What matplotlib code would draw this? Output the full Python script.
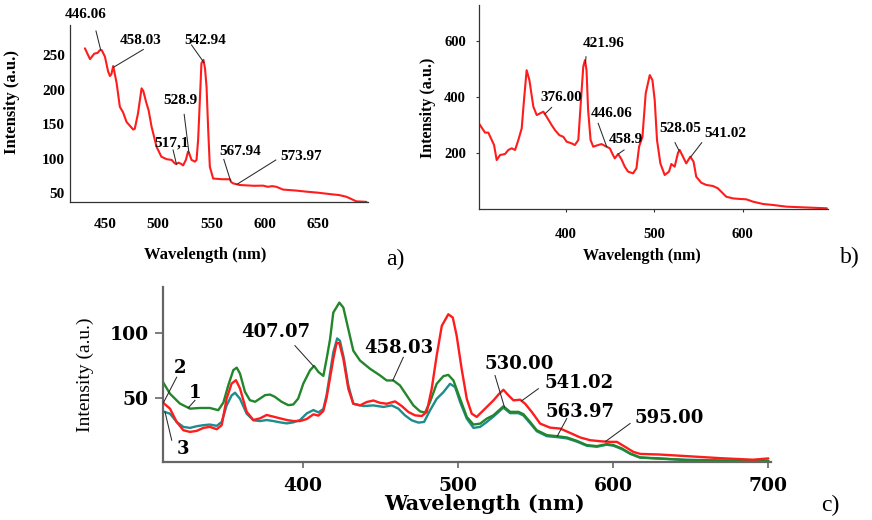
import numpy as np
import matplotlib
matplotlib.use("Agg")
import matplotlib.pyplot as plt

# ---------------- data ----------------
# a) emission spectrum
a_wl = [431.2, 436.0, 440.0, 443.0, 445.3, 447.0, 450.0, 453.0, 454.7, 456.0, 457.8,
        461.0, 464.0, 467.0, 470.3, 476.5, 478.0, 481.0, 484.4, 486.0, 489.0, 491.0,
        493.8, 498.5, 503.0, 508.0, 512.6, 515.6, 517.0, 519.0, 521.9, 523.4, 526.0,
        528.0, 529.0, 531.3, 534.4, 536.0, 537.5, 539.0, 540.6, 542.5, 544.0, 545.4,
        547.0, 548.5, 551.6, 560.0, 567.2, 568.5, 570.3, 576.6, 590.0, 598.5, 603.0,
        607.0, 611.0, 617.3, 630.0, 639.0, 650.0, 661.0, 670.0, 676.7, 686.0, 695.5]
a_int = [259.7, 244, 252, 253, 257, 257, 247.6, 226, 219.6, 222, 234,
         209, 175, 167, 153, 142, 143, 165, 201.7, 198, 180, 170,
         146, 117, 102.6, 99, 98, 93, 92, 94, 92, 90, 98,
         110, 108, 98, 95.5, 98, 127, 180, 238, 243, 230, 204,
         140, 88, 71, 70, 70, 66, 64, 61.6, 60.5, 60.7, 59,
         60, 59, 55, 53.5, 52, 50.5, 48.5, 47, 44.6, 38, 37.2]
a_labels = ["446.06", "458.03", "542.94", "528.9", "517,1", "567.94", "573.97"]
a_peaks = [446.06, 458.03, 542.94, 528.9, 517.1, 567.94, 573.97]

# b) emission spectrum
b_wl = [301.8, 308.3, 312.0, 315.9, 318.5, 321.5, 325.3, 330.9, 334.7, 338.5, 342.3,
        346.0, 349.8, 352.4, 355.4, 358.5, 363.0, 366.8, 370.5, 374.3, 378.0, 383.7,
        387.5, 392.4, 396.9, 400.7, 406.3, 410.0, 413.9, 416.9, 419.5, 421.4, 423.2,
        425.0, 427.8, 430.8, 436.4, 440.2, 445.9, 449.6, 452.6, 455.2, 459.0, 462.8,
        466.5, 470.3, 475.9, 479.7, 482.7, 486.5, 490.2, 494.8, 497.8, 500.4, 503.0,
        506.8, 511.7, 516.6, 519.2, 523.0, 526.8, 528.6, 532.4, 536.1, 540.7, 544.4,
        547.4, 553.1, 558.8, 566.3, 571.9, 575.7, 581.4, 588.9, 596.5, 604.0, 611.6,
        622.9, 634.2, 649.3, 668.2, 695.3]
b_int = [305, 274, 274, 247.6, 229.7, 176, 194, 197.5, 212, 218, 212,
         247.6, 289, 390, 497, 462, 366.5, 336.8, 342.7, 348.7, 331, 301,
         283, 265, 259, 241.6, 235.6, 229.7, 247.6, 390, 509, 533, 497,
         354.6, 247.6, 223.7, 229.7, 233, 223.7, 217.8, 197.5, 182, 197.5, 178.5,
         152.3, 134.5, 128.5, 146.4, 223.7, 259, 414, 479.6, 461.7, 390, 247.6,
         164, 122.6, 134.5, 161.8, 152.3, 202, 212, 188, 164, 188, 170,
         116.6, 95, 87, 83.3, 75, 63, 45, 39, 37, 35.7, 27.4,
         19, 15.5, 9.5, 7, 3.6]
b_labels = ["421.96", "376.00", "446.06", "458.9", "528.05", "541.02"]
b_peaks = [421.96, 376.00, 446.06, 458.9, 528.05, 541.02]

# c) three samples
c1_wl = [310.0, 314.5, 320.9, 327.4, 333.8, 340.2, 345.6, 348.9, 352.1, 355.3, 357.5,
         359.6, 362.8, 366.0, 369.3, 372.5, 375.7, 378.9, 382.1, 386.4, 390.7, 393.9,
         397.1, 400.4, 404.7, 407.3, 410.1, 413.3, 415.4, 417.6, 419.7, 423.6, 426.2,
         429.4, 432.6, 436.9, 443.4, 449.8, 454.1, 458.4, 462.7, 467.0, 471.3, 475.6,
         478.8, 482.0, 486.3, 490.6, 493.8, 497.1, 501.4, 505.7, 510.0, 514.3, 518.6,
         522.9, 529.3, 533.6, 539.0, 542.2, 546.5, 550.8, 557.3, 563.7, 570.2, 576.6,
         583.0, 589.5, 595.9, 600.2, 605.6, 611.0, 617.3, 630.0, 647.0, 669.0, 700.0]
c1_int = [62, 53, 45.4, 41.5, 42, 42, 40.3, 46.2, 59.7, 71.3, 73.2,
          68.6, 54.5, 48, 46.8, 49.3, 51.9, 52.4, 50.6, 46.8, 44.2, 44.7,
          49.3, 60.9, 71.1, 74.5, 69.9, 66.8, 80, 95, 115.8, 123.5, 119.6,
          102.9, 86.3, 78.7, 72.3, 67.2, 63.3, 63.3, 59.4, 51.7, 44, 39.4,
          38.4, 46.6, 60.7, 66.6, 67.6, 63.3, 49.1, 35.1, 29.2, 29.9, 33.8,
          36.4, 43.3, 39, 39, 37.2, 31.2, 24.8, 21, 20.2, 19.2, 16.6,
          13.3, 12.5, 14.1, 13.3, 10.7, 6.9, 3.8, 3, 1.7, 1.2, 1]

c2_wl = [310.0, 314.5, 318.8, 323.1, 327.4, 331.7, 336.0, 340.2, 344.6, 347.8, 351.0,
         354.2, 357.0, 359.6, 363.9, 368.2, 372.5, 376.8, 381.1, 385.4, 389.7, 394.0,
         398.3, 402.6, 406.9, 410.1, 413.3, 415.4, 419.7, 421.8, 423.6, 426.2, 429.4,
         432.6, 436.9, 441.2, 445.5, 449.8, 454.1, 459.5, 463.8, 468.1, 472.4, 476.7,
         479.9, 483.1, 486.3, 489.6, 493.8, 496.7, 499.2, 502.4, 505.7, 508.9, 512.1,
         517.5, 522.9, 526.2, 529.3, 532.6, 535.8, 540.1, 543.3, 547.6, 553.0, 559.4,
         565.9, 572.3, 578.8, 585.2, 591.6, 598.1, 602.4, 607.8, 613.1, 617.4, 630.0,
         647.0, 669.0, 690.0, 700.0]
c2_int = [46.1, 41.5, 31.2, 24.8, 23.5, 24.3, 26.6, 27.4, 25.6, 28.7, 49.3,
          60.9, 63.5, 57.1, 39.1, 32.7, 34, 36.6, 35.3, 34, 32.7, 31.9,
          31.9, 33.5, 37.1, 36.1, 39.7, 50, 79.9, 92.2, 92.2, 79.9, 56.8,
          45.3, 44, 46.6, 47.8, 46, 45.3, 47.1, 43.5, 38.9, 36.3, 35.8,
          38.9, 56.8, 82.4, 105.5, 114.5, 111.9, 97.8, 72.2, 49.1, 37.6, 35.1,
          41.5, 47.9, 52.5, 56.1, 51.7, 47.9, 48.4, 45.3, 38.9, 29.9, 26.8,
          26.1, 22.7, 19.2, 17.1, 16.3, 15.8, 15.8, 11.9, 8, 6.5, 6,
          4.8, 3.2, 2, 3]

c3_wl = [310.0, 314.5, 318.8, 323.1, 327.4, 331.7, 336.0, 340.2, 344.6, 347.8, 351.0,
         354.2, 356.4, 359.6, 363.9, 368.2, 372.5, 376.8, 381.1, 385.4, 389.7, 394.0,
         398.3, 402.6, 406.9, 410.1, 413.3, 415.4, 419.7, 422.2, 424.0, 426.6, 429.4,
         432.6, 439.1, 445.5, 452.0, 457.3, 461.6, 465.9, 470.2, 474.5, 478.2, 482.0,
         486.3, 490.6, 494.9, 498.2, 501.4, 505.7, 510.0, 514.3, 518.6, 522.9, 529.3,
         533.6, 539.0, 542.2, 546.5, 550.8, 557.3, 563.7, 570.2, 576.6, 583.0, 589.5,
         595.9, 600.2, 605.6, 611.0, 617.3, 630.0, 647.0, 669.0, 700.0]
c3_int = [39.4, 37.6, 31.2, 27.4, 26.6, 27.9, 28.7, 29.2, 28.2, 31.2, 44,
          51.7, 53.8, 49.1, 37.6, 32.5, 31.9, 32.7, 31.9, 30.9, 30.1, 30.9,
          32.7, 37.8, 40.4, 38.6, 41.2, 52, 85, 95.8, 94, 79.9, 59.4,
          45.3, 43.5, 44, 42.8, 44, 41.5, 36.3, 32.5, 30.7, 31.2, 40.1,
          49.1, 54.2, 60.7, 58.1, 46.6, 33.8, 26.6, 27.4, 31.2, 35.4, 42.3,
          38, 38, 36.2, 30.2, 24, 20.2, 19.5, 18.5, 16, 12.8, 12,
          13.6, 12.8, 10.2, 6.5, 3.6, 2.8, 2, 1.5, 1.2]
c_labels = ["407.07", "458.03", "530.00", "541.02", "563.97", "595.00"]
c_peaks = [407.07, 458.03, 530.00, 541.02, 563.97, 595.00]
c_peak_curve = [1, 1, 1, 2, 1, 2]
c_names = ["1", "2", "3"]

# ---------------- layout / style ----------------
W, H = 872, 520
fig = plt.figure(figsize=(W / 100, H / 100), dpi=100)

RED = "#ff1c1c"
GREEN = "#23862a"
TEAL = "#1d8c8c"
LEADER = "#2a2a2a"
TIMES = "Liberation Serif"
WIDE = "DejaVu Serif"
LINE_KW = dict(solid_joinstyle="round", solid_capstyle="round")


def add_axes_px(left, top, right, bottom):
    return fig.add_axes([left / W, 1 - bottom / H, (right - left) / W, (bottom - top) / H])


def fig_text(x, y, s, **kw):
    fig.text(x / W, 1 - y / H, s, ha="center", va="center", **kw)


def leader(ax, wl, xs, ys, start, text_xy, text, **kw):
    y_end = np.interp(wl, xs, ys)
    ax.plot([start[0], wl], [start[1], y_end], color=LEADER, lw=0.75,
            clip_on=False, zorder=4)
    ax.text(text_xy[0], text_xy[1], text, ha="center", va="center",
            clip_on=False, zorder=5, **kw)


def style_axes(ax, spine_color, spine_w):
    for side in ("top", "right"):
        ax.spines[side].set_visible(False)
    for side in ("left", "bottom"):
        ax.spines[side].set_color(spine_color)
        ax.spines[side].set_linewidth(spine_w)


# ---- panel a ----
ax_a = add_axes_px(70, 25, 368, 202)
ax_a.plot(a_wl, a_int, color=RED, lw=1.5, **LINE_KW)
ax_a.set_xlim(417.2, 697)
ax_a.set_ylim(37, 293.5)
ax_a.set_xticks([450, 500, 550, 600, 650])
ax_a.set_yticks([50, 100, 150, 200, 250])
style_axes(ax_a, "#333333", 0.9)
ax_a.tick_params(axis="x", length=0, pad=11.5)
ax_a.tick_params(axis="y", length=0, pad=3.6)
for lab in ax_a.get_xticklabels() + ax_a.get_yticklabels():
    lab.set_fontfamily(TIMES)
    lab.set_fontweight("bold")
    lab.set_fontsize(11)

a_text_xy = [(432, 309), (483.8, 271.7), (543.8, 270.7), (520.4, 184.8),
             (512.8, 122.5), (576.6, 110), (634.4, 102.6)]
a_start = [(441.6, 284.8), (486, 258), (531.3, 264.5), (524.4, 164),
           (514, 112.3), (561.6, 98.8), (610.4, 97.8)]
for lab, wl, txy, st in zip(a_labels, a_peaks, a_text_xy, a_start):
    leader(ax_a, wl, a_wl, a_int, st, txy, lab,
           fontfamily=TIMES, fontweight="bold", fontsize=11)

fig_text(205, 255, "Wavelength (nm)", fontfamily=TIMES, fontweight="bold", fontsize=12)
fig_text(12.5, 102.5, "Intensity (a.u.)", fontfamily=TIMES, fontweight="bold",
         fontsize=12, rotation=90)
fig_text(395, 259, "a)", fontfamily=TIMES, fontsize=17)

# ---- panel b ----
ax_b = add_axes_px(479.3, 5, 828, 209.3)
ax_b.plot(b_wl, b_int, color=RED, lw=1.5, **LINE_KW)
ax_b.set_xlim(301.8, 696.6)
ax_b.set_ylim(0, 730)
ax_b.set_xticks([400, 500, 600])
ax_b.set_yticks([200, 400, 600])
style_axes(ax_b, "#333333", 0.9)
ax_b.tick_params(axis="x", length=2.5, width=0.8, pad=11, colors="#333333", labelcolor="black")
ax_b.tick_params(axis="y", length=2.5, width=0.8, pad=7, colors="#333333", labelcolor="black")
for lab in ax_b.get_xticklabels() + ax_b.get_yticklabels():
    lab.set_fontfamily(TIMES)
    lab.set_fontweight("bold")
    lab.set_fontsize(10.5)

b_text_xy = [(442.7, 592.6), (394.3, 400), (451.7, 342.7), (467.6, 250),
             (529.1, 289), (580.4, 271)]
b_start = [(422.6, 545), (383.7, 364), (436.4, 307), (465.7, 212),
           (523.4, 238), (553.6, 238)]
for lab, wl, txy, st in zip(b_labels, b_peaks, b_text_xy, b_start):
    leader(ax_b, wl, b_wl, b_int, st, txy, lab,
           fontfamily=TIMES, fontweight="bold", fontsize=11)

fig_text(642, 256.5, "Wavelength (nm)", fontfamily=TIMES, fontweight="bold", fontsize=11.5)
fig_text(428, 108, "Intensity (a.u.)", fontfamily=TIMES, fontweight="bold",
         fontsize=11.5, rotation=90)
fig_text(850, 257, "b)", fontfamily=TIMES, fontsize=17)

# ---- panel c ----
ax_c = add_axes_px(162.7, 286.7, 770.7, 462.3)
c_curves = [(c1_wl, c1_int, GREEN), (c2_wl, c2_int, RED), (c3_wl, c3_int, TEAL)]
ax_c.plot(c3_wl, c3_int, color=TEAL, lw=1.7, **LINE_KW)
ax_c.plot(c1_wl, c1_int, color=GREEN, lw=1.7, **LINE_KW)
ax_c.plot(c2_wl, c2_int, color=RED, lw=1.7, **LINE_KW)
ax_c.set_xlim(309.8, 701.5)
ax_c.set_ylim(0, 135.8)
ax_c.set_xticks([400, 500, 600, 700])
ax_c.set_yticks([50, 100])
style_axes(ax_c, "#666666", 1.6)
ax_c.tick_params(axis="x", length=4.5, width=1.2, pad=6, colors="#666666", labelcolor="black")
ax_c.tick_params(axis="y", length=6, width=1.2, pad=4, colors="#666666", labelcolor="black")
for lab in ax_c.get_xticklabels() + ax_c.get_yticklabels():
    lab.set_fontfamily(WIDE)
    lab.set_fontweight("bold")
    lab.set_fontsize(13.5)

c_text_xy = [(382.5, 101), (461.9, 88.3), (539.5, 75.8), (578.2, 61.4),
             (578.7, 38.7), (636.1, 34.1)]
c_start = [(395, 90.2), (464.8, 81.2), (523.9, 67.1), (551.8, 56.9),
           (570.1, 33.8), (610.9, 30)]
for lab, wl, k, txy, st in zip(c_labels, c_peaks, c_peak_curve, c_text_xy, c_start):
    xs, ys, _ = c_curves[k - 1]
    leader(ax_c, wl, xs, ys, st, txy, lab,
           fontfamily=WIDE, fontweight="bold", fontsize=13)

# curve numbers
name_pos = {"1": ((330.6, 53.7), (330.6, 47.9), 326.3),
            "2": ((321, 72.9), (318.8, 65.8), 310.2),
            "3": ((323, 10.2), (315.6, 17.1), 311.3)}
for k, name in enumerate(c_names):
    xs, ys, _ = c_curves[k]
    txy, st, wl = name_pos[name]
    leader(ax_c, wl, xs, ys, st, txy, name,
           fontfamily=WIDE, fontweight="bold", fontsize=13)

fig_text(484, 504, "Wavelength (nm)", fontfamily=WIDE, fontweight="bold", fontsize=15)
fig_text(85.8, 375, "Intensity (a.u.)", fontfamily=TIMES, fontsize=14, rotation=90)
fig_text(830, 505, "c)", fontfamily=TIMES, fontsize=17)

fig.savefig("out.png", dpi=100)
